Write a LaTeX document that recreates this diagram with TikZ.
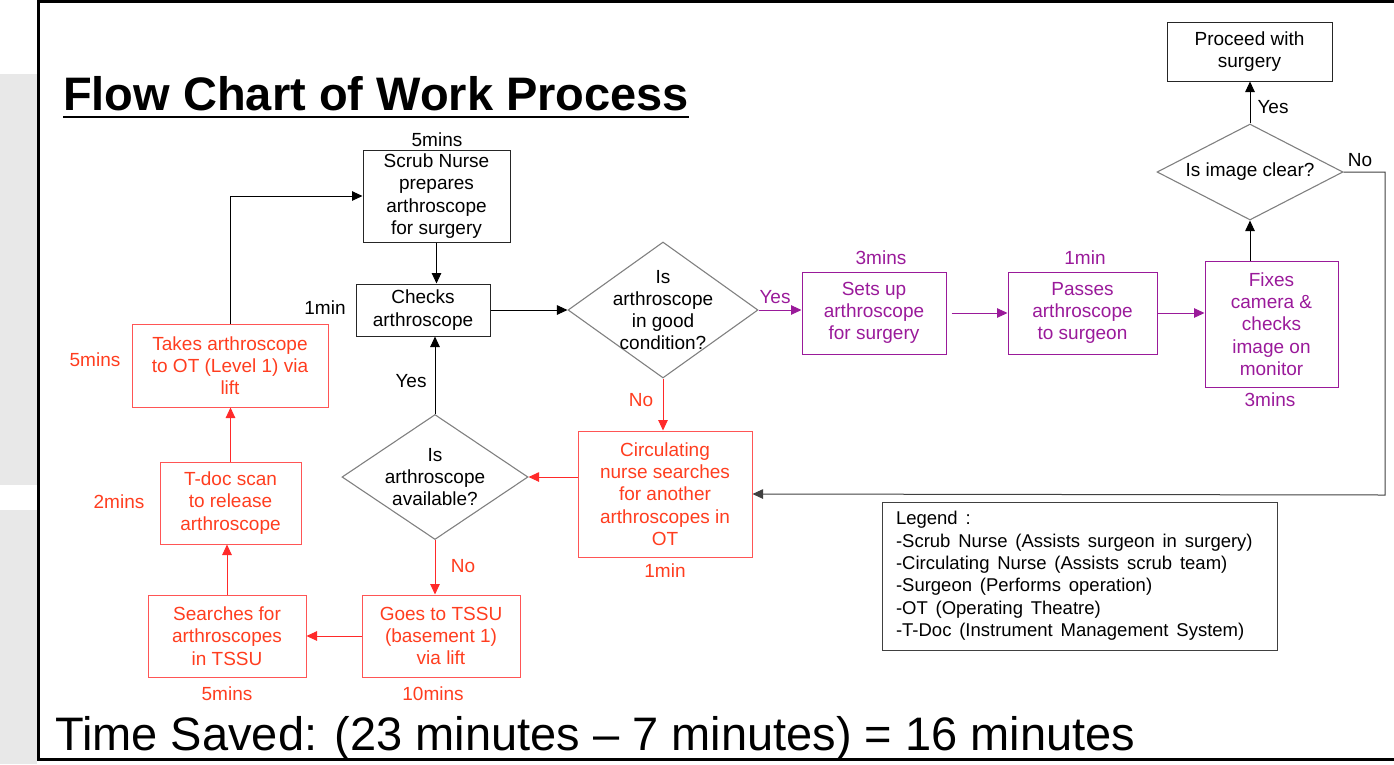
\documentclass[tikz,border=0pt]{standalone}
\usepackage{fontspec}
\setmainfont{Liberation Sans}
\usetikzlibrary{shapes.geometric,arrows.meta}
\definecolor{stepRed}{HTML}{FF3D1F}
\definecolor{lineRed}{HTML}{FF2A2A}
\definecolor{stepPurple}{HTML}{9A1A9A}
\definecolor{panelGray}{HTML}{E8E8E8}
\newcommand\legendspacing{\spaceskip=7.8pt plus 1pt\relax}

\begin{document}
\begin{tikzpicture}[x=1pt,y=-1pt,
  every node/.style={font=\fontsize{19}{22.3}\selectfont},
  box/.style={draw=black!85,line width=1pt,align=center,inner sep=1pt},
  redbox/.style={box,draw=lineRed!80,text=stepRed},
  purplebox/.style={box,draw=stepPurple,text=stepPurple},
  decision/.style={diamond,draw=gray,line width=1.1pt,inner sep=0pt},
  qtext/.style={align=center},
  flow/.style={line width=1pt,-{Triangle[length=10.5pt,width=9.5pt]}},
  redflow/.style={flow,draw=lineRed},
  purpleflow/.style={flow,draw=stepPurple},
  redlabel/.style={text=stepRed},
  purplelabel/.style={text=stepPurple}]

  \useasboundingbox (0,0) rectangle (1394,764);
  \fill[panelGray] (0,74) rectangle (37,485);
  \fill[panelGray] (0,510) rectangle (37,764);
  \draw[line width=3pt] (38.5,1.5) rectangle (1420,759);

  % Title
  \node[anchor=base west,inner sep=0pt,font=\fontsize{47}{56}\selectfont\bfseries] (Title) at (63,110) {Flow Chart of Work Process};
  \draw[line width=2.5pt] ([yshift=-7pt]Title.base west) -- ([yshift=-7pt]Title.base east);

  % Main path
  \node[box,minimum width=147pt,minimum height=92pt] (ScrubPrep) at (436.5,196) {Scrub Nurse\\prepares\\arthroscope\\for surgery};
  \node[box,minimum width=134pt,minimum height=52pt] (Check) at (423,310) {Checks\\arthroscope};
  \node[decision,minimum width=190pt,minimum height=136pt] (CondQ) at (663,310) {};
  \node[qtext] at (CondQ) {Is\\arthroscope\\in good\\condition?};

  % Scrub team (purple)
  \node[purplebox,minimum width=144pt,minimum height=82pt] (SetUp) at (874,313) {Sets up\\arthroscope\\for surgery};
  \node[purplebox,minimum width=149pt,minimum height=82pt] (PassSurg) at (1082.5,313) {Passes\\arthroscope\\to surgeon};
  \node[purplebox,minimum width=133pt,minimum height=126pt] (FixCam) at (1271.5,324) {Fixes\\camera \&\\checks\\image on\\monitor};
  \node[decision,minimum width=186pt,minimum height=96pt] (ClearQ) at (1250,172) {};
  \node[qtext] at (ClearQ) {Is image clear?};
  \node[box,minimum width=165pt,minimum height=59pt] (Proceed) at (1249.5,51.5) {Proceed with\\surgery};

  % Circulating nurse (red)
  \node[redbox,minimum width=174pt,minimum height=126pt] (CircSearch) at (665,494) {Circulating\\nurse searches\\for another\\arthroscopes in\\OT};
  \node[decision,minimum width=186pt,minimum height=125pt] (AvailQ) at (435,477) {};
  \node[qtext] at (AvailQ) {Is\\arthroscope\\available?};
  \node[redbox,minimum width=158pt,minimum height=82pt] (GoTSSU) at (441,636) {Goes to TSSU\\(basement 1)\\via lift};
  \node[redbox,minimum width=158pt,minimum height=82pt] (SearchTSSU) at (227,636) {Searches for\\arthroscopes\\in TSSU};
  \node[redbox,minimum width=141pt,minimum height=82pt] (TDoc) at (230.5,503) {T-doc scan\\to release\\arthroscope};
  \node[redbox,minimum width=196pt,minimum height=83pt] (TakeOT) at (230,365.5) {Takes arthroscope\\to OT (Level 1) via\\lift};

  % Times
  \node at (437,140) {5mins};
  \node at (325,308) {1min};
  \node[purplelabel] at (881,258) {3mins};
  \node[purplelabel] at (1085,258) {1min};
  \node[purplelabel] at (1270,400) {3mins};
  \node[redlabel] at (665,571) {1min};
  \node[redlabel] at (433,694) {10mins};
  \node[redlabel] at (227,694) {5mins};
  \node[redlabel] at (119,502) {2mins};
  \node[redlabel] at (95,360) {5mins};

  % Connectors
  \coordinate (NoTurn) at (1385,495);
  \draw[flow] (ScrubPrep.south) -- (ScrubPrep.south |- Check.north);
  \draw[flow] (Check.east) -- (CondQ.west);
  \draw[purpleflow] (CondQ.east) -- (CondQ.east -| SetUp.west);
  \draw[purpleflow,shorten <=5pt] (SetUp.east) -- (PassSurg.west);
  \draw[purpleflow] (PassSurg.east) -- (PassSurg.east -| FixCam.west);
  \draw[flow] (ClearQ.south |- FixCam.north) -- (ClearQ.south);
  \draw[flow] (ClearQ.north) -- (ClearQ.north |- Proceed.south);
  \draw[flow,draw=black!75] (ClearQ.east) -| (NoTurn) -- (CircSearch.east);
  \draw[redflow] (CondQ.south) -- (CondQ.south |- CircSearch.north);
  \draw[redflow] (AvailQ.east -| CircSearch.west) -- (AvailQ.east);
  \draw[flow] (AvailQ.north) -- (AvailQ.north |- Check.south);
  \draw[redflow] (AvailQ.south) -- (AvailQ.south |- GoTSSU.north);
  \draw[redflow] (GoTSSU.west) -- (SearchTSSU.east);
  \draw[redflow] (SearchTSSU.north) -- (SearchTSSU.north |- TDoc.south);
  \draw[redflow] (TDoc.north) -- (TDoc.north |- TakeOT.south);
  \draw[flow] (TakeOT.north) |- (ScrubPrep.west);

  % Branch labels
  \node[anchor=west] at (1254,107) {Yes};
  \node at (1360,160) {No};
  \node[purplelabel] at (775,297) {Yes};
  \node[redlabel] at (641,400) {No};
  \node at (411,381) {Yes};
  \node[redlabel] at (463,566) {No};

  % Legend
  \node[box,draw=black!75,align=left,minimum width=395pt,minimum height=148pt,text width=367pt,font=\fontsize{18.5}{22.4}\selectfont] (Legend) at (1079.5,576) {\legendspacing Legend :\\-Scrub Nurse (Assists surgeon in surgery)\\-Circulating Nurse (Assists scrub team)\\-Surgeon (Performs operation)\\-OT (Operating Theatre)\\-T-Doc (Instrument Management System)};

  \node[anchor=base west,inner sep=0pt,font=\fontsize{47}{56}\selectfont] (Saved) at (55,750) {Time Saved: (23 minutes -- 7 minutes) = 16 minutes};
\end{tikzpicture}
\end{document}
